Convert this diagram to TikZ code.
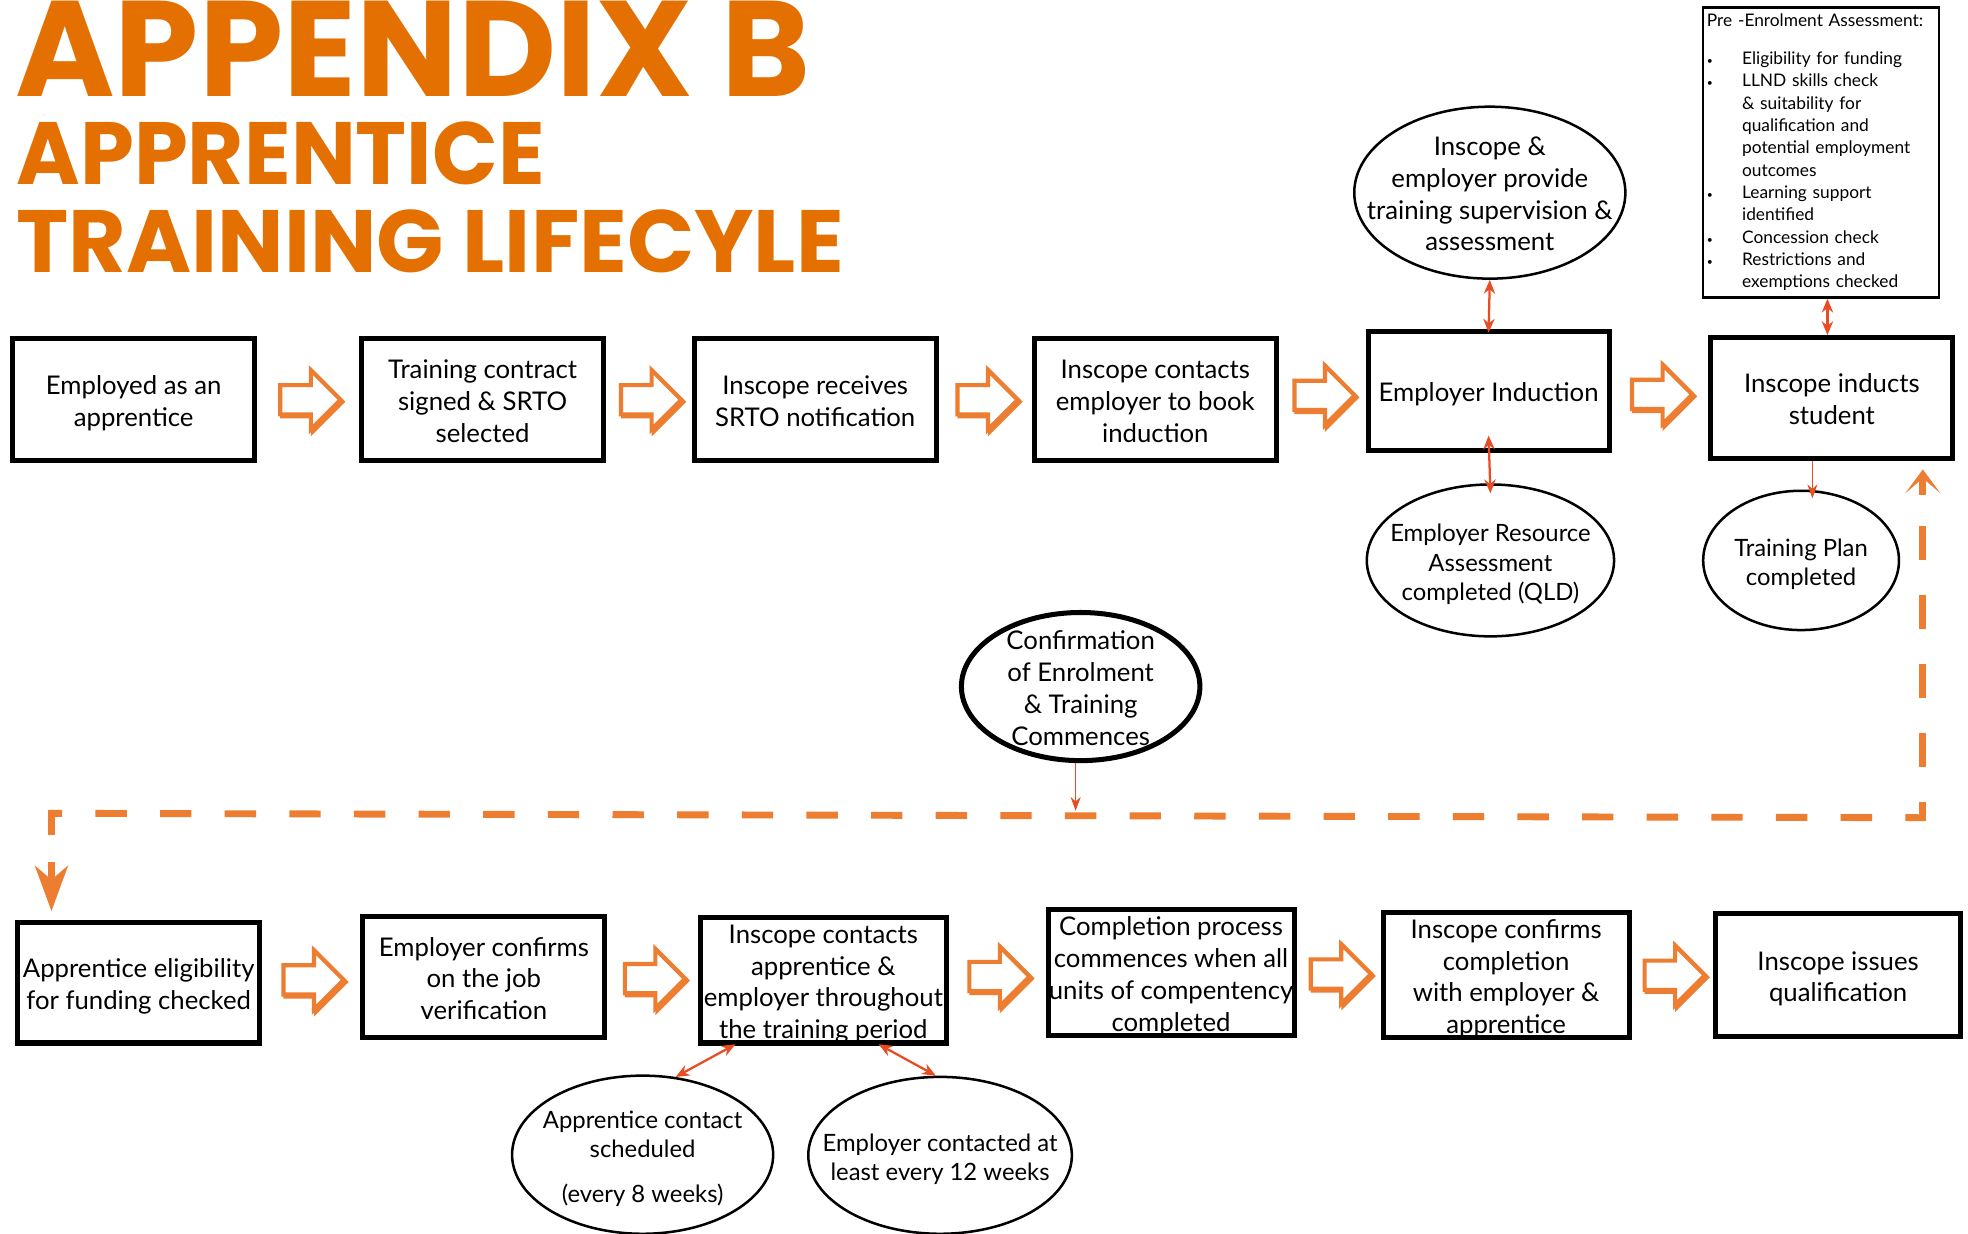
\documentclass[tikz,border=0pt]{standalone}
\usepackage{fontspec}
\usepackage{graphicx}
\setmainfont{Lato}
\newfontfamily\titlefont{Poppins}
\usetikzlibrary{shapes.geometric,shapes.arrows,arrows.meta,calc,shadows}
\definecolor{titleorange}{RGB}{227,112,0}
\definecolor{blockorange}{RGB}{237,125,49}
\definecolor{linkred}{RGB}{232,76,34}
\newcommand\bul{\makebox[28pt][l]{\scalebox{0.6}{\textbullet}}}
\newcommand\ind{\hspace*{28pt}}
\newcommand\ctext[1]{\makebox[0pt]{\smash{\raisebox{\dimexpr-0.25em-3.5pt\relax}{\begin{tabular}{@{}c@{}}#1\end{tabular}}}}}
\begin{document}
\begin{tikzpicture}[x=1pt,y=-1pt,
 stepbox/.style={draw=black, line width=4pt, fill=white, minimum width=193pt, minimum height=97pt, inner sep=0pt, font=\fontsize{20.5}{25.3}\selectfont},
 bubble/.style={ellipse, draw=black, line width=2pt, inner sep=0pt, font=\fontsize{19}{23.3}\selectfont},
 prebox/.style={draw=black, line width=2pt, fill=white, minimum width=188pt, minimum height=231pt, text width=182pt, align=left, inner xsep=3pt, inner ysep=2pt, font=\fontsize{13.8}{17.8}\selectfont},
 blockarrow/.style={single arrow, draw=blockorange, fill=white, line width=3.3pt, minimum height=48pt, inner xsep=0pt, inner ysep=10pt, single arrow head extend=12pt, xshift=-4pt,
   copy shadow={shadow xshift=1.6pt, shadow yshift=-1.6pt, fill=blockorange, draw=blockorange}},
 dbl/.style={draw=linkred, line width=1.8pt, arrows={Stealth[length=11pt,width=9pt]-Stealth[length=11pt,width=9pt]}},
 one/.style={draw=linkred, line width=1.3pt, arrows={-Stealth[length=11pt,width=8pt]}},
 dashv/.style={draw=blockorange, line width=5.5pt, dash pattern=on 27pt off 28pt, dash phase=28pt},
 dashh/.style={draw=blockorange, line width=5.5pt, dash pattern=on 25pt off 26.5pt, dash phase=11pt},
 dashend/.style={draw=blockorange, line width=5.5pt, dash pattern=on 17pt off 40pt},
 tiptop/.style={draw=blockorange, line width=5.5pt, arrows={-Stealth[length=19pt,width=28pt,inset=12pt]}},
 tipbot/.style={draw=blockorange, line width=5.5pt, arrows={-Stealth[length=36pt,width=26pt,inset=11pt]}},
 titletext/.style={anchor=base west, inner sep=0pt, text=titleorange}
]
\fill[white] (0,0) rectangle (1568,983);
\useasboundingbox (0,0) rectangle (1568,983);

% titles
\node[titletext] (tA) at (12,77) {\resizebox{633pt}{76pt}{\titlefont\bfseries APPENDIX B}};
\node[titletext] (tB) at (13,147) {\resizebox{421pt}{50pt}{\titlefont\bfseries APPRENTICE}};
\node[titletext] (tC) at (13,217) {\resizebox{659pt}{50pt}{\titlefont\bfseries TRAINING LIFECYLE}};

% top row
\node[stepbox] (b1) at (106.5,318.5) {\ctext{Employed as an\\apprentice}};
\node[stepbox] (b2) at (384.5,318.5) {\ctext{Training contract\\signed \& SRTO\\selected}};
\node[stepbox] (b3) at (649.5,318.5) {\ctext{Inscope receives\\SRTO notification}};
\node[stepbox] (b4) at (920.5,318.5) {\ctext{Inscope contacts\\employer to book\\induction}};
\node[stepbox, minimum width=192pt, minimum height=95pt] (b5) at (1186,311.5) {\ctext{Employer Induction}};
\node[stepbox, minimum height=96pt] (b6) at (1459.5,317) {\ctext{Inscope inducts\\student}};

% bottom row
\node[stepbox, minimum height=96pt] (c1) at (110.5,783) {\ctext{Apprentice eligibility\\for funding checked}};
\node[stepbox] (c2) at (385.5,778.5) {\ctext{Employer confirms\\on the job\\verification}};
\node[stepbox, minimum width=196pt, minimum height=100pt] (c3) at (656,781) {\ctext{Inscope contacts\\apprentice \&\\employer throughout\\the training period}};
\node[stepbox, minimum width=196pt, minimum height=100pt] (c4) at (933,775) {\ctext{Completion process\\commences when all\\units of compentency\\completed}};
\node[stepbox, minimum width=196pt, minimum height=100pt] (c5) at (1200,777) {\ctext{Inscope confirms\\completion\\with employer \&\\apprentice}};
\node[stepbox, minimum width=195pt, minimum height=98pt] (c6) at (1464.5,777) {\ctext{Inscope issues\\qualification}};

% block arrows
\node[blockarrow] (a1) at ($(b1.east)!0.5!(b2.west)$) {};
\node[blockarrow] (a2) at ($(b2.east)!0.5!(b3.west)$) {};
\node[blockarrow] (a3) at ($(b3.east)!0.5!(b4.west)$) {};
\node[blockarrow] (a4) at ($(b4.east)!0.5!(b5.west)$) {};
\node[blockarrow] (a5) at ($(b5.east)!0.5!(b6.west)$) {};
\node[blockarrow] (a6) at ($(c1.east)!0.5!(c2.west)$) {};
\node[blockarrow] (a7) at ($(c2.east)!0.5!(c3.west)$) {};
\node[blockarrow] (a8) at ($(c3.east)!0.5!(c4.west)$) {};
\node[blockarrow] (a9) at ($(c4.east)!0.5!(c5.west)$) {};
\node[blockarrow] (a10) at ($(c5.east)!0.5!(c6.west)$) {};

% ellipses
\node[bubble, minimum width=216pt, minimum height=137pt, font=\fontsize{20.5}{25.3}\selectfont] (e1) at (1187,153.5) {\ctext{Inscope \&\\employer provide\\training supervision \&\\assessment}};
\node[bubble, minimum width=197pt, minimum height=121pt] (e2) at (1187.5,446.5) {\ctext{Employer Resource\\Assessment\\completed (QLD)}};
\node[bubble, minimum width=156pt, minimum height=111pt] (e3) at (1435,446.5) {\ctext{Training Plan\\completed}};
\node[bubble, line width=4pt, minimum width=190pt, minimum height=118pt, font=\fontsize{20.5}{25.5}\selectfont] (e4) at (861,547) {\ctext{Confirmation\\of Enrolment\\\& Training\\Commences}};
\node[bubble, minimum width=208pt, minimum height=126pt] (e5) at (512,920) {\ctext{Apprentice contact\\scheduled\\[12pt](every 8 weeks)}};
\node[bubble, minimum width=210pt, minimum height=125pt] (e6) at (749,920.5) {\ctext{Employer contacted at\\least every 12 weeks}};

% pre-enrolment box
\node[prebox] (pre) at (1451,121.5) {Pre -Enrolment Assessment:\\[12.2pt]
\bul Eligibility for funding\\
\bul LLND skills check\\
\ind\& suitability for\\
\ind qualification and\\
\ind potential employment\\
\ind outcomes\\
\bul Learning support\\
\ind identified\\
\bul Concession check\\
\bul Restrictions and\\
\ind exemptions checked};

% red connectors
\draw[dbl] (e1.south) -- ([yshift=-3pt]b5.north);
\draw[dbl] ([yshift=14pt]b5.south) -- ([yshift=-8pt]e2.north);
\draw[dbl] ([xshift=5pt]pre.south) -- ([xshift=-3.5pt]b6.north);
\draw[one] ([xshift=-15.5pt]b6.south) -- ([xshift=9pt,yshift=-7pt]e3.north);
\draw[dbl] ([xshift=-70pt,yshift=1pt]c3.south) -- (e5.67);
\draw[dbl] ([xshift=44pt,yshift=1pt]c3.south) -- (e6.93);

% dashed return path (from Inscope inducts student round to the bottom row)
\coordinate (dtop) at ([xshift=72.5pt,yshift=-7pt]b6.south);
\coordinate (dbot) at ([xshift=-69.5pt,yshift=7pt]c1.north);
\coordinate (dtopb) at (1532,392);
\coordinate (cr) at (1532,651.5);
\coordinate (cl) at (41,648);
\coordinate (dbotb) at (41,689);
\coordinate (dj) at (857,646);
\draw[tiptop] ([yshift=-2pt]dtopb) -- (dtop);
\draw[dashv] (dtopb) -- ([yshift=-2.75pt]cr);
\draw[dashh] (cr) -- ([xshift=-2.75pt]cl);
\draw[dashend] (cl) -- (dbotb);
\draw[tipbot] ([yshift=2pt]dbotb) -- (dbot);
\draw[one] (e4.south -| dj) -- (dj);
\end{tikzpicture}
\end{document}
